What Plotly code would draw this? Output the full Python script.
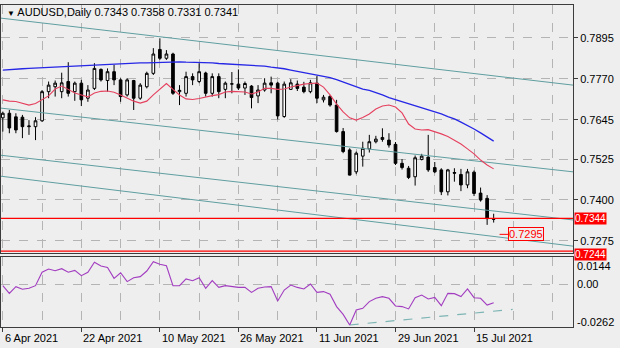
import plotly.graph_objects as go

# AUDUSD daily bars, 6 Apr 2021 .. 20 Jul 2021 (bar index 0..75)
opens = [0.7651, 0.7665, 0.7654, 0.7653, 0.7624, 0.7624, 0.7642, 0.7731, 0.7746, 0.7731,
         0.7762, 0.7731, 0.7757, 0.7711, 0.7741, 0.7799, 0.7765, 0.7792, 0.7767, 0.7721,
         0.7765, 0.7711, 0.7746, 0.7787, 0.7860, 0.7833, 0.7846, 0.7731, 0.7726, 0.7777,
         0.7762, 0.7788, 0.7726, 0.7777, 0.7738, 0.7754, 0.7754, 0.7742, 0.7748, 0.7718,
         0.7736, 0.7758, 0.7757, 0.7655, 0.7738, 0.7754, 0.7745, 0.7731, 0.7757, 0.7706,
         0.7716, 0.7690, 0.7609, 0.7553, 0.7486, 0.7534, 0.7556, 0.7578, 0.7585, 0.7583,
         0.7570, 0.7512, 0.7497, 0.7471, 0.7524, 0.7531, 0.7499, 0.7492, 0.7425, 0.7484,
         0.7478, 0.7446, 0.7485, 0.7421, 0.7405, 0.7343]
highs = [0.7670, 0.7675, 0.7665, 0.7660, 0.7644, 0.7653, 0.7736, 0.7762, 0.7765, 0.7789,
         0.7821, 0.7762, 0.7767, 0.7751, 0.7818, 0.7802, 0.7802, 0.7813, 0.7772, 0.7772,
         0.7767, 0.7757, 0.7792, 0.7864, 0.7894, 0.7858, 0.7850, 0.7751, 0.7792, 0.7787,
         0.7818, 0.7792, 0.7787, 0.7787, 0.7762, 0.7791, 0.7799, 0.7762, 0.7751, 0.7751,
         0.7772, 0.7777, 0.7761, 0.7762, 0.7769, 0.7765, 0.7761, 0.7767, 0.7779, 0.7721,
         0.7721, 0.7706, 0.7620, 0.7558, 0.7548, 0.7578, 0.7599, 0.7596, 0.7619, 0.7604,
         0.7577, 0.7525, 0.7504, 0.7536, 0.7541, 0.7599, 0.7516, 0.7497, 0.7495, 0.7497,
         0.7495, 0.7495, 0.7490, 0.7438, 0.7415, 0.7358]
lows = [0.7609, 0.7604, 0.7604, 0.7589, 0.7599, 0.7583, 0.7639, 0.7711, 0.7716, 0.7711,
        0.7716, 0.7703, 0.7687, 0.7700, 0.7736, 0.7762, 0.7731, 0.7751, 0.7700, 0.7716,
        0.7675, 0.7706, 0.7741, 0.7782, 0.7828, 0.7828, 0.7721, 0.7690, 0.7716, 0.7751,
        0.7757, 0.7716, 0.7716, 0.7711, 0.7711, 0.7726, 0.7736, 0.7721, 0.7680, 0.7696,
        0.7731, 0.7726, 0.7646, 0.7651, 0.7736, 0.7733, 0.7726, 0.7726, 0.7696, 0.7698,
        0.7685, 0.7606, 0.7543, 0.7475, 0.7479, 0.7502, 0.7545, 0.7573, 0.7578, 0.7560,
        0.7507, 0.7493, 0.7464, 0.7444, 0.7521, 0.7486, 0.7482, 0.7415, 0.7414, 0.7456,
        0.7427, 0.7436, 0.7412, 0.7395, 0.7324, 0.7331]
closes = [0.7665, 0.7620, 0.7614, 0.7624, 0.7626, 0.7642, 0.7731, 0.7751, 0.7757, 0.7758,
          0.7726, 0.7757, 0.7706, 0.7736, 0.7802, 0.7767, 0.7792, 0.7767, 0.7716, 0.7767,
          0.7711, 0.7751, 0.7787, 0.7846, 0.7833, 0.7846, 0.7726, 0.7735, 0.7777, 0.7767,
          0.7792, 0.7726, 0.7777, 0.7731, 0.7757, 0.7755, 0.7742, 0.7756, 0.7713, 0.7736,
          0.7757, 0.7751, 0.7657, 0.7754, 0.7758, 0.7741, 0.7731, 0.7758, 0.7711, 0.7714,
          0.7690, 0.7609, 0.7548, 0.7476, 0.7543, 0.7558, 0.7578, 0.7586, 0.7591, 0.7568,
          0.7512, 0.7499, 0.7469, 0.7529, 0.7534, 0.7492, 0.7486, 0.7425, 0.7492, 0.7482,
          0.7446, 0.7486, 0.7420, 0.7400, 0.7343, 0.7341]

# fast (red) and slow (blue) moving averages
ma_fast = [0.7706, 0.7702, 0.7701, 0.7696, 0.7690, 0.7695, 0.7706, 0.7718, 0.7739, 0.7748,
           0.7738, 0.7727, 0.7721, 0.7715, 0.7727, 0.7732, 0.7733, 0.7729, 0.7721, 0.7712,
           0.7702, 0.7696, 0.7702, 0.7721, 0.7739, 0.7756, 0.7738, 0.7721, 0.7709, 0.7707,
           0.7710, 0.7715, 0.7719, 0.7722, 0.7730, 0.7732, 0.7732, 0.7730, 0.7724, 0.7730,
           0.7741, 0.7741, 0.7738, 0.7739, 0.7745, 0.7750, 0.7754, 0.7756, 0.7757, 0.7745,
           0.7721, 0.7693, 0.7669, 0.7651, 0.7644, 0.7652, 0.7663, 0.7678, 0.7687, 0.7690,
           0.7684, 0.7666, 0.7632, 0.7617, 0.7614, 0.7615, 0.7609, 0.7602, 0.7594, 0.7583,
           0.7571, 0.7556, 0.7541, 0.7522, 0.7507, 0.7495]
ma_slow = [0.7797, 0.7799, 0.7800, 0.7801, 0.7802, 0.7803, 0.7804, 0.7805, 0.7806, 0.7807,
           0.7809, 0.7809, 0.7811, 0.7812, 0.7813, 0.7815, 0.7816, 0.7816, 0.7817, 0.7818,
           0.7818, 0.7819, 0.7819, 0.7820, 0.7820, 0.7821, 0.7822, 0.7822, 0.7821, 0.7821,
           0.7820, 0.7820, 0.7819, 0.7817, 0.7816, 0.7814, 0.7813, 0.7812, 0.7811, 0.7810,
           0.7809, 0.7806, 0.7804, 0.7801, 0.7797, 0.7793, 0.7790, 0.7786, 0.7782, 0.7779,
           0.7774, 0.7768, 0.7761, 0.7753, 0.7745, 0.7739, 0.7735, 0.7729, 0.7721, 0.7713,
           0.7707, 0.7701, 0.7695, 0.7689, 0.7683, 0.7677, 0.7670, 0.7663, 0.7655, 0.7648,
           0.7638, 0.7628, 0.7617, 0.7605, 0.7593, 0.7580]

# Marlin oscillator
marlin = [-0.0010, -0.0059, -0.0016, -0.0033, -0.0027, -0.0010, 0.0076, 0.0097, 0.0086, 0.0099,
          0.0076, 0.0088, 0.0054, 0.0076, 0.0140, 0.0116, 0.0106, 0.0037, 0.0073, 0.0016,
          0.0041, 0.0048, 0.0084, 0.0144, 0.0127, 0.0118, -0.0010, -0.0010, 0.0033, 0.0022,
          0.0041, -0.0027, 0.0022, -0.0021, -0.0010, -0.0016, -0.0021, -0.0021, -0.0053, -0.0027,
          -0.0018, -0.0016, -0.0108, -0.0038, -0.0006, -0.0021, -0.0031, 0.0001, -0.0053, -0.0048,
          -0.0065, -0.0144, -0.0194, -0.0262, -0.0166, -0.0155, -0.0112, -0.0091, -0.0080, -0.0091,
          -0.0140, -0.0144, -0.0159, -0.0087, -0.0070, -0.0095, -0.0085, -0.0138, -0.0059, -0.0061,
          -0.0080, -0.0031, -0.0087, -0.0091, -0.0134, -0.0119]

tick_bars = [0, 12, 24, 36, 48, 60, 72]
tick_labels = ["6 Apr 2021", "22 Apr 2021", "10 May 2021", "26 May 2021",
               "11 Jun 2021", "29 Jun 2021", "15 Jul 2021"]
price_ticks = [0.7895, 0.7770, 0.7645, 0.7525, 0.7400, 0.7275]
marlin_ticks = [0.0144, 0.0, -0.0262]
marlin_tick_text = ["0.0144", "0.00", "-0.0262"]

# descending channel lines: price at the left and right ends
channel_bars = [-0.43, 87.12]
channel_left = [0.7956, 0.7681, 0.7537, 0.7473]
channel_right = [0.7751, 0.7486, 0.7339, 0.7259]

# horizontal levels and target
level_main = 0.7344
level_low = 0.7244
target_price = 0.7295
target_bar = 77.2

# Marlin support trend line
marlin_trend_bars = [53, 77.9]
marlin_trend_vals = [-0.0262, -0.0162]

BG = "#EEEEEE"
FRAME = "#3C3C3C"
GRID = "#B4B4B4"
FONT = "Liberation Sans"
TEAL = "#5F9EA0"

n = len(closes)
bars = list(range(n))
x_range = [-0.275, 87.12]

fig = go.Figure()

for lp, rp in zip(channel_left, channel_right):
    fig.add_trace(go.Scatter(x=channel_bars, y=[lp, rp], mode="lines",
                             line=dict(color=TEAL, width=1), hoverinfo="skip",
                             showlegend=False, xaxis="x", yaxis="y"))

fig.add_trace(go.Scatter(x=bars, y=ma_slow, mode="lines",
                         line=dict(color="#2626E6", width=1.3), hoverinfo="skip",
                         showlegend=False, xaxis="x", yaxis="y"))
fig.add_trace(go.Scatter(x=bars, y=ma_fast, mode="lines",
                         line=dict(color="#E5405E", width=1.1), hoverinfo="skip",
                         showlegend=False, xaxis="x", yaxis="y"))

fig.add_trace(go.Candlestick(
    x=bars, open=opens, high=highs, low=lows, close=closes,
    increasing=dict(line=dict(color="#000000", width=1), fillcolor="#FFFFFF"),
    decreasing=dict(line=dict(color="#000000", width=1), fillcolor="#000000"),
    whiskerwidth=0, hoverinfo="skip", showlegend=False, xaxis="x", yaxis="y"))

# target pointer segment
fig.add_trace(go.Scatter(x=[n - 0.1, target_bar], y=[target_price, target_price], mode="lines",
                         line=dict(color="#FF0000", width=1), hoverinfo="skip",
                         showlegend=False, xaxis="x", yaxis="y"))

# Marlin panel
fig.add_trace(go.Scatter(x=marlin_trend_bars, y=marlin_trend_vals, mode="lines",
                         line=dict(color="#7DB4B4", width=1.2, dash="dash"), hoverinfo="skip",
                         showlegend=False, xaxis="x2", yaxis="y2"))
fig.add_trace(go.Scatter(x=bars, y=marlin, mode="lines",
                         line=dict(color="#A23CC0", width=1.1), hoverinfo="skip",
                         showlegend=False, xaxis="x2", yaxis="y2"))

for lvl in (level_main, level_low):
    fig.add_shape(type="line", xref="x domain", x0=0, x1=1, yref="y", y0=lvl, y1=lvl,
                  line=dict(color="#FF0000", width=1.2), layer="above")

annotations = []
for lvl, shift in ((level_main, 0), (level_low, -3)):
    annotations.append(dict(xref="paper", x=1, xanchor="left", xshift=1, yref="y", y=lvl,
                            yshift=shift, text=f"{lvl:.4f}", showarrow=False,
                            bgcolor="#FF0000", borderpad=0,
                            font=dict(family=FONT, size=10, color="#FFFFFF")))
annotations.append(dict(xref="x", x=target_bar, xanchor="left", yref="y", y=target_price,
                        text=f"{target_price:.4f}", showarrow=False, bgcolor=BG,
                        bordercolor="#FF0000", borderwidth=1, borderpad=0,
                        font=dict(family=FONT, size=11, color="#FF0000")))

# date labels, left aligned on their bar
for b, t in zip(tick_bars, tick_labels):
    annotations.append(dict(xref="x2", x=b, xanchor="left", xshift=0, yref="paper", y=0,
                            yanchor="top", yshift=-3, text=t, showarrow=False,
                            font=dict(family=FONT, size=11, color="#000000")))

# Marlin scale labels
for v, t, s in zip(marlin_ticks, marlin_tick_text, [-4, 0, 3]):
    annotations.append(dict(xref="paper", x=1, xanchor="left", xshift=2, yref="y2", y=v,
                            yshift=s, text=t, showarrow=False,
                            font=dict(family=FONT, size=11, color="#000000")))

annotations.append(dict(xref="paper", x=0, xanchor="left", xshift=4, yref="paper", y=1,
                        yanchor="top", yshift=1,
                        text=("<span style='font-size:8px'>▼</span> AUDUSD,Daily "
                              f"{opens[-1]:.4f} {highs[-1]:.4f} {lows[-1]:.4f} {closes[-1]:.4f}"),
                        showarrow=False, font=dict(family=FONT, size=11, color="#000000")))
annotations.append(dict(xref="paper", x=0, xanchor="left", xshift=6, yref="y2",
                        y=0.0174, yanchor="top", yshift=-3,
                        text=f"Marlin {marlin[-1]:.4f}", showarrow=False,
                        font=dict(family=FONT, size=11, color="#000000")))

grid_common = dict(showgrid=True, gridcolor=GRID, gridwidth=1, griddash="dash",
                   zeroline=False, showline=True, linecolor=FRAME, linewidth=1, mirror=True)

fig.update_layout(
    width=620, height=348,
    margin=dict(l=1, r=47, t=5, b=21),
    paper_bgcolor=BG, plot_bgcolor=BG,
    font=dict(family=FONT, size=11, color="#000000"),
    showlegend=False,
    boxgap=0.42,
    annotations=annotations,
    xaxis=dict(domain=[0, 1], range=x_range, anchor="y", tickmode="array",
               tickvals=tick_bars, showticklabels=False, ticks="",
               minor=dict(tickmode="linear", tick0=0, dtick=6, showgrid=True,
                          gridcolor=GRID, griddash="dash", ticks=""),
               rangeslider=dict(visible=False), **grid_common),
    yaxis=dict(domain=[0.2298, 1], range=[0.72380, 0.79958], anchor="x", side="right",
               tickmode="array", tickvals=price_ticks,
               ticktext=[f"{p:.4f}" for p in price_ticks], ticks="outside", ticklen=4,
               tickcolor=FRAME, tickfont=dict(family=FONT, size=11, color="#000000"),
               **grid_common),
    xaxis2=dict(domain=[0, 1], range=x_range, anchor="y2", tickmode="array",
                tickvals=tick_bars, showticklabels=False, ticks="outside", ticklen=4,
                tickcolor=FRAME,
                minor=dict(tickmode="linear", tick0=0, dtick=6, showgrid=True,
                           gridcolor=GRID, griddash="dash", ticks=""),
                **grid_common),
    yaxis2=dict(domain=[0, 0.2174], range=[-0.02749, 0.01739], anchor="x2", side="right",
                tickmode="array", tickvals=[0.0], showticklabels=False, ticks="",
                **grid_common),
)

fig.write_html("out.html")
